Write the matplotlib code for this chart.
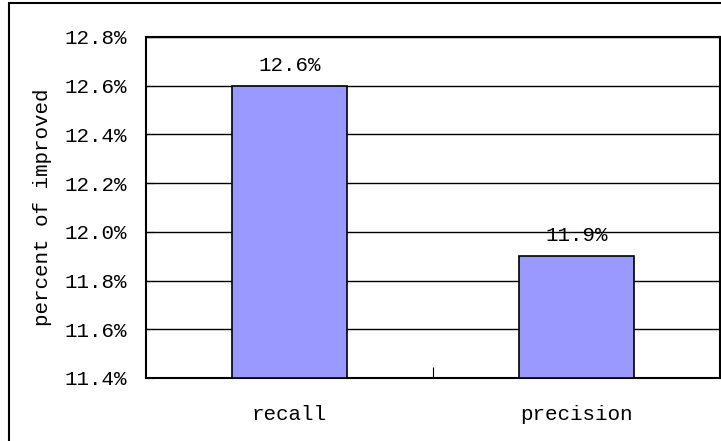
import matplotlib
matplotlib.use("Agg")
import matplotlib.pyplot as plt
from matplotlib.patches import Rectangle
from matplotlib.ticker import FuncFormatter

categories = ["recall", "precision"]
improved = [12.6, 11.9]
y_ticks = [11.4, 11.6, 11.8, 12.0, 12.2, 12.4, 12.6, 12.8]

plt.rcParams["font.family"] = ["Liberation Mono", "DejaVu Sans Mono"]
plt.rcParams["font.size"] = 15

fig = plt.figure(figsize=(7.21, 4.41), dpi=100)
ax = fig.add_axes([146 / 721, 1 - 378 / 441, 574 / 721, 341 / 441])

# outer frame around the chart area (only left and top edges fall inside)
fig.patches.append(Rectangle((9 / 721, -0.1), 1.2, 1 - 3 / 441 + 0.1,
                             transform=fig.transFigure, fill=False,
                             edgecolor="black", linewidth=1.5))

x = range(len(categories))
ax.bar(x, [v - y_ticks[0] for v in improved], bottom=y_ticks[0], width=0.4,
       color="#9999ff", edgecolor="black", linewidth=1.2, zorder=3)
for i, v in enumerate(improved):
    ax.text(i, v + 0.045, "%.1f%%" % v, ha="center", va="bottom")

ax.set_xlim(-0.5, 1.5)
ax.set_ylim(y_ticks[0], y_ticks[-1])
ax.set_yticks(y_ticks)
ax.yaxis.set_major_formatter(FuncFormatter(lambda v, p: "%.1f%%" % v))
ax.grid(axis="y", color="black", linewidth=1, zorder=0)
ax.tick_params(axis="y", direction="in", length=6, pad=14)

ax.set_xticks([0.5])
ax.set_xticklabels([""])
ax.tick_params(axis="x", direction="in", length=8, color="black")
for i, c in enumerate(categories):
    ax.text(i, -0.08, c, transform=ax.get_xaxis_transform(), ha="center",
            va="top")

ax.set_ylabel("percent of improved", labelpad=9)
for s in ax.spines.values():
    s.set_linewidth(1.5)

fig.savefig("out.png", dpi=100)
